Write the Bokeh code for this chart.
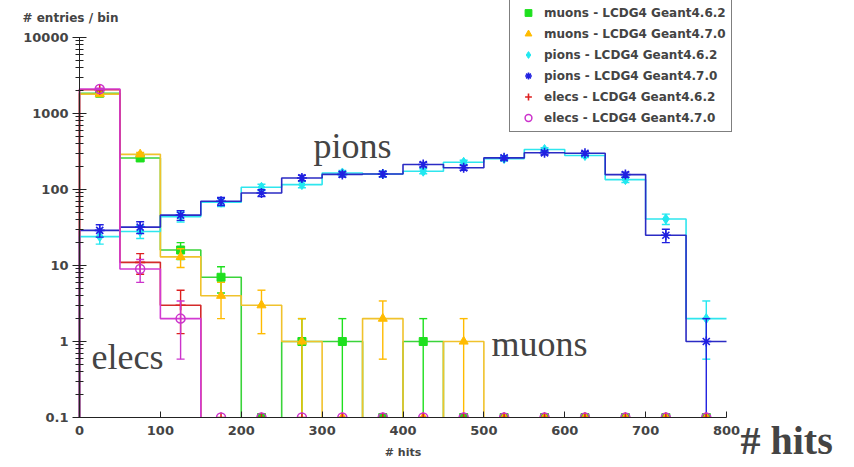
import numpy as np
from bokeh.plotting import figure
from bokeh.models import Range1d, FixedTicker, Label, Legend, LegendItem
from bokeh.embed import file_html
from bokeh.resources import INLINE

# 16 bins of 50 hits, 0..800
bin_edges = [0, 50, 100, 150, 200, 250, 300, 350, 400, 450, 500, 550, 600, 650, 700, 750, 800]

muons_g462 = [1850, 260, 16, 7, 0, 1, 1, 0, 1, 0, 0, 0, 0, 0, 0, 0]
muons_g470 = [1800, 290, 13, 4, 3, 1, 0, 2, 0, 1, 0, 0, 0, 0, 0, 0]
pions_g462 = [24, 28, 44, 68, 107, 116, 165, 160, 174, 228, 255, 336, 280, 135, 41, 2]
pions_g470 = [29, 32, 46, 70, 90, 142, 158, 160, 213, 193, 261, 304, 300, 157, 25, 1]
elecs_g462 = [2050, 11, 3, 0, 0, 0, 0, 0, 0, 0, 0, 0, 0, 0, 0, 0]
elecs_g470 = [2100, 9, 2, 0, 0, 0, 0, 0, 0, 0, 0, 0, 0, 0, 0, 0]

y_ticks = [0.1, 1, 10, 100, 1000, 10000]
y_tick_labels = ["0.1", "1", "10", "100", "1000", "10000"]
x_ticks = [0, 100, 200, 300, 400, 500, 600, 700, 800]

series = [
    ("muons - LCDG4 Geant4.6.2", muons_g462, "#3ad43a", "#1ee01e", "square", 8),
    ("muons - LCDG4 Geant4.7.0", muons_g470, "#f0c22c", "#ffbb00", "triangle", 9),
    ("pions - LCDG4 Geant4.6.2", pions_g462, "#2ee6ee", "#22e8f0", "diamond", 10),
    ("pions - LCDG4 Geant4.7.0", pions_g470, "#2b2bc4", "#2020e0", "asterisk", 10),
    ("elecs - LCDG4 Geant4.6.2", elecs_g462, "#d42a2a", "#dd2020", "cross", 10),
    ("elecs - LCDG4 Geant4.7.0", elecs_g470, "#d23ad2", "#cc33cc", "circle", 9),
]

# canvas and where the axes sit on it (pixels from the top-left corner)
W, H = 854, 467
AX_LEFT, AX_RIGHT, AX_TOP, AX_BOTTOM = 79, 726, 37, 417
X_MIN, X_MAX = 0, 800
Y_MIN, Y_MAX = 0.1, 10000

# the plot frame fills the whole canvas; the axes are pinned inside it
px_per_x = (AX_RIGHT - AX_LEFT) / (X_MAX - X_MIN)
x_start = X_MIN - AX_LEFT / px_per_x
x_end = X_MAX + (W - AX_RIGHT) / px_per_x
px_per_decade = (AX_BOTTOM - AX_TOP) / np.log10(Y_MAX / Y_MIN)
y_start = Y_MIN * 10 ** (-(H - AX_BOTTOM) / px_per_decade)
y_end = Y_MAX * 10 ** (AX_TOP / px_per_decade)

FLOOR = 1e-3  # empty bins on the log axis (below the visible range)

p = figure(width=W, height=H, output_backend="svg", toolbar_location=None,
           x_range=Range1d(x_start, x_end), y_range=Range1d(y_start, y_end),
           y_axis_type="log", min_border=0)
p.title.visible = False
p.outline_line_color = None
p.xgrid.visible = False
p.ygrid.visible = False
p.background_fill_color = "white"
p.border_fill_color = "white"

edges = np.array(bin_edges, dtype=float)
centers = 0.5 * (edges[:-1] + edges[1:])

items = []
for label, vals, line_col, mark_col, marker, size in series:
    v = np.array(vals, dtype=float)
    vs = np.where(v > 0, v, FLOOR)
    # histogram outline: rise from the axis at the first edge, then steps
    xs = [edges[0]]
    ys = [FLOOR]
    for i in range(len(v)):
        xs += [edges[i], edges[i + 1]]
        ys += [vs[i], vs[i]]
    p.line(xs, ys, line_color=line_col, line_width=1.6)

    # sqrt(N) error bars with caps
    nz = v > 0
    err = np.sqrt(v[nz])
    up = v[nz] + err
    lo = np.where(v[nz] - err > 0, v[nz] - err, FLOOR)
    p.segment(x0=centers[nz], y0=lo, x1=centers[nz], y1=up, line_color=mark_col, line_width=1.4)
    p.scatter(x=centers[nz], y=up, marker="dash", size=8, line_color=mark_col, line_width=1.4)
    p.scatter(x=centers[nz], y=lo, marker="dash", size=8, line_color=mark_col, line_width=1.4)

    # markers; empty bins sit on the lower axis edge
    my = np.where(v > 0, v, Y_MIN)
    if marker == "circle":
        r = p.scatter(x=centers, y=my, marker=marker, size=size, line_color=mark_col,
                      fill_color=None, line_width=1.5)
    elif marker in ("asterisk", "cross"):
        r = p.scatter(x=centers, y=my, marker=marker, size=size, line_color=mark_col, line_width=1.6)
    else:
        r = p.scatter(x=centers, y=my, marker=marker, size=size, line_color=mark_col,
                      fill_color=mark_col)
    items.append(LegendItem(label=label, renderers=[r]))

# blank out everything below the horizontal axis
p.quad(left=x_start, right=x_end, bottom=y_start, top=Y_MIN,
       fill_color="white", line_color=None)

# axes, pinned at the data origin
xa = p.xaxis[0]
xa.fixed_location = Y_MIN
xa.bounds = (X_MIN, X_MAX)
xa.ticker = FixedTicker(ticks=x_ticks)
xa.axis_label = "# hits"
xa.axis_label_text_font = "DejaVu Sans"
xa.axis_label_text_font_style = "bold"
xa.axis_label_text_font_size = "11px"
xa.axis_label_standoff = 8
xa.major_label_text_font = "DejaVu Sans"
xa.major_label_text_font_style = "bold"
xa.major_label_text_font_size = "13px"
xa.major_label_standoff = 8
xa.major_tick_in = 6
xa.major_tick_out = 0
xa.minor_tick_line_color = None
xa.axis_line_color = "#222222"
xa.major_tick_line_color = "#222222"

ya = p.yaxis[0]
ya.fixed_location = X_MIN
ya.bounds = (Y_MIN, Y_MAX)
minor = [m * 10.0 ** d for d in range(-1, 4) for m in range(2, 10)]
ya.ticker = FixedTicker(ticks=y_ticks, minor_ticks=minor)
ya.major_label_overrides = {t: s for t, s in zip(y_ticks, y_tick_labels)}
ya.major_label_text_font = "DejaVu Sans"
ya.major_label_text_font_style = "bold"
ya.major_label_text_font_size = "13px"
ya.major_label_standoff = 4
ya.major_tick_in = 7
ya.major_tick_out = 7
ya.minor_tick_in = 4
ya.minor_tick_out = 4
ya.axis_line_color = "#222222"
ya.major_tick_line_color = "#222222"
ya.minor_tick_line_color = "#222222"

# legend box in the top-right corner (location = left, bottom in screen px)
legend = Legend(items=items, location=(509, 335), border_line_color="black",
                border_line_width=1, background_fill_color="white", background_fill_alpha=1,
                label_text_font="DejaVu Sans", label_text_font_style="bold",
                label_text_font_size="12px", glyph_width=26, glyph_height=17,
                label_height=17, label_standoff=3, spacing=4, padding=5, margin=0)
p.add_layout(legend, "center")

# text annotations (screen px from the bottom-left corner)
def add_text(x, y, text, font, size, style="normal"):
    p.add_layout(Label(x=x, y=y, x_units="screen", y_units="screen", text=text,
                       text_font=font, text_font_size=size, text_font_style=style,
                       text_baseline="alphabetic"))

add_text(22, 450, "# entries / bin", "DejaVu Sans", "12px", "bold")
add_text(313, 322, "pions", "Liberation Serif", "36px")
add_text(91, 111, "elecs", "Liberation Serif", "36px")
add_text(491, 124, "muons", "Liberation Serif", "36px")
add_text(740, 27, "# hits", "Liberation Serif", "40px", "bold")

open("out.html", "w").write(file_html(p, INLINE))
